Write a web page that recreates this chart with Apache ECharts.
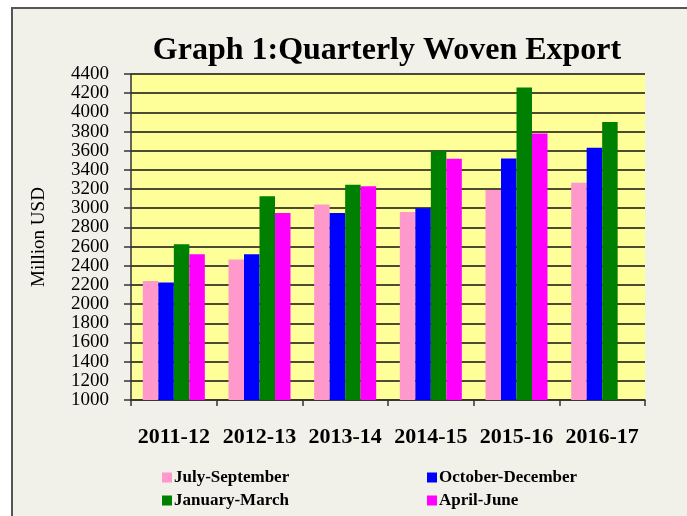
<!DOCTYPE html>
<html>
<head>
<meta charset="utf-8">
<script src="https://cdn.jsdelivr.net/npm/echarts@6/dist/echarts.min.js"></script>
<style>
html,body{margin:0;padding:0;background:#ffffff;}
#c{width:687px;height:516px;}
</style>
</head>
<body>
<div id="c"></div>
<script>
const categories = ['2011-12','2012-13','2013-14','2014-15','2015-16','2016-17'];
const seriesNames = ['July-September','October-December','January-March','April-June'];
const julSep = [2240, 2465, 3040, 2960, 3190, 3265];
const octDec = [2225, 2520, 2950, 3000, 3520, 3630];
const janMar = [2625, 3125, 3245, 3600, 4260, 3900];
const aprJun = [2520, 2950, 3230, 3515, 3780, null];
const yMin = 1000, yMax = 4400, yStep = 200;
const colors = ['#ff99cc', '#0000ff', '#008000', '#ff00ff'];

const values = [julSep, octDec, janMar, aprJun];
const serif = '"Liberation Serif", "Times New Roman", serif';

const chart = echarts.init(document.getElementById('c'));

const legendPos = [
  {left: 162, top: 469},
  {left: 427, top: 469},
  {left: 162, top: 492},
  {left: 427, top: 492}
];

chart.setOption({
  backgroundColor: '#ffffff',
  animation: false,
  graphic: [
    {type: 'rect', z: -10, shape: {x: 12, y: 8, width: 700, height: 600},
     style: {fill: '#f1f0e9', stroke: '#555555', lineWidth: 2}}
  ],
  title: {
    text: 'Graph 1:Quarterly Woven Export',
    left: 382, top: 30, textAlign: 'center',
    textStyle: {fontFamily: serif, fontWeight: 'bold', fontSize: 32, color: '#000'}
  },
  legend: seriesNames.map((n, i) => ({
    data: [n], left: legendPos[i].left, top: legendPos[i].top,
    itemWidth: 10, itemHeight: 10, itemGap: 0, icon: 'rect',
    textStyle: {fontFamily: serif, fontWeight: 'bold', fontSize: 17, color: '#000', padding: [0,0,0,-3]},
    padding: 0, selectedMode: false
  })),
  grid: {left: 131, right: 42, top: 74, bottom: 116, show: true, backgroundColor: '#ffff99', borderWidth: 0},
  xAxis: {
    type: 'category', data: categories,
    axisLine: {lineStyle: {color: '#333', width: 1.5}},
    axisTick: {show: true, alignWithLabel: false, length: 6, lineStyle: {color: '#333', width: 1.5}},
    axisLabel: {interval: 0, margin: 26, fontFamily: serif, fontWeight: 'bold', fontSize: 22, color: '#000'}
  },
  yAxis: {
    type: 'value', min: yMin, max: yMax, interval: yStep,
    name: 'Million USD', nameLocation: 'middle', nameGap: 82, nameRotate: 90,
    nameTextStyle: {fontFamily: serif, fontSize: 19, color: '#000'},
    axisLine: {show: true, lineStyle: {color: '#333', width: 1.5}},
    axisTick: {show: true, length: 7, lineStyle: {color: '#333', width: 1.5}},
    splitLine: {show: true, lineStyle: {color: '#111', width: 1.5}},
    axisLabel: {margin: 22, fontFamily: serif, fontSize: 19, color: '#000', formatter: v => String(v)}
  },
  series: values.map((v, i) => ({
    name: seriesNames[i], type: 'bar', data: v,
    barWidth: 15.5, barGap: '0%',
    itemStyle: {color: colors[i]}
  }))
});
</script>
</body>
</html>
